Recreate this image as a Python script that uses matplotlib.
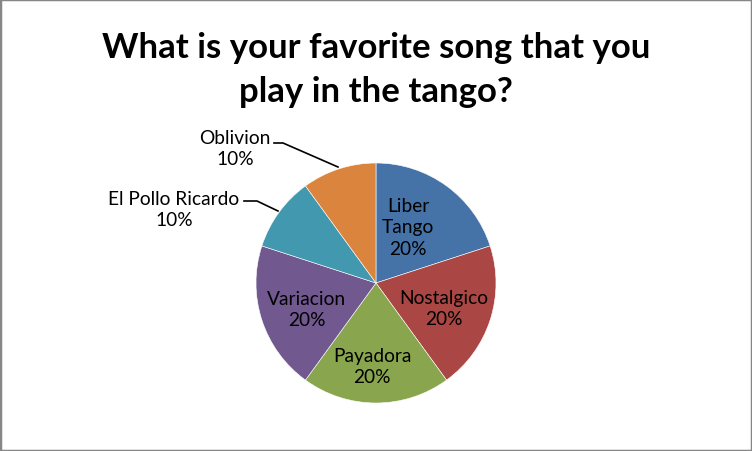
import matplotlib
matplotlib.use("Agg")
import matplotlib.pyplot as plt
from matplotlib.patches import Rectangle

title = "What is your favorite song that you\nplay in the tango?"
categories = ["Liber Tango", "Nostalgico", "Payadora", "Variacion", "El Pollo Ricardo", "Oblivion"]
values = [20, 20, 20, 20, 10, 10]
colors = ["#4572A7", "#AA4643", "#89A54E", "#71588F", "#4198AF", "#DB843D"]

W, H = 752, 452
fig = plt.figure(figsize=(W / 100, H / 100), dpi=100)
ax = fig.add_axes([0, 0, 1, 1])

cx, cy, r = 376, H - 284, 120
ax.pie(values, colors=colors, startangle=90, counterclock=False,
       center=(cx, cy), radius=r, frame=True,
       wedgeprops=dict(edgecolor="white", linewidth=0.4))
ax.set_xlim(0, W)
ax.set_ylim(0, H)
ax.set_aspect("equal")
ax.axis("off")

font = "Lato"
fs = 13.8
ls = 1.3
pcts = [f"{v}%" for v in values]
inside = {
    0: ("Liber\nTango\n" + pcts[0], 408, 228),
    1: (categories[1] + "\n" + pcts[1], 444, 309),
    2: (categories[2] + "\n" + pcts[2], 372, 367),
    3: (categories[3] + "\n" + pcts[3], 307, 310),
}
for i, (txt, x, y) in inside.items():
    ax.text(x, H - y, txt, ha="center", va="center", fontsize=fs, family=font,
            linespacing=ls, color="black")

ax.text(174, H - 210, categories[4] + "\n" + pcts[4], ha="center", va="center",
        fontsize=fs, family=font, linespacing=ls)
ax.plot([244, 257, 278], [H - 202, H - 202, H - 212], color="black", lw=1.2)
ax.text(235, H - 149, categories[5] + "\n" + pcts[5], ha="center", va="center",
        fontsize=fs, family=font, linespacing=ls)
ax.plot([274, 283, 338], [H - 144, H - 144, H - 168], color="black", lw=1.2)

ax.text(W / 2, H - 70, title, ha="center", va="center", fontsize=25,
        fontweight="bold", family=font, linespacing=1.45)

fig.patches.append(Rectangle((0, 0), 1, 1, transform=fig.transFigure,
                             fill=False, edgecolor="#868686", linewidth=2.5))
fig.savefig("out.png", dpi=100)
